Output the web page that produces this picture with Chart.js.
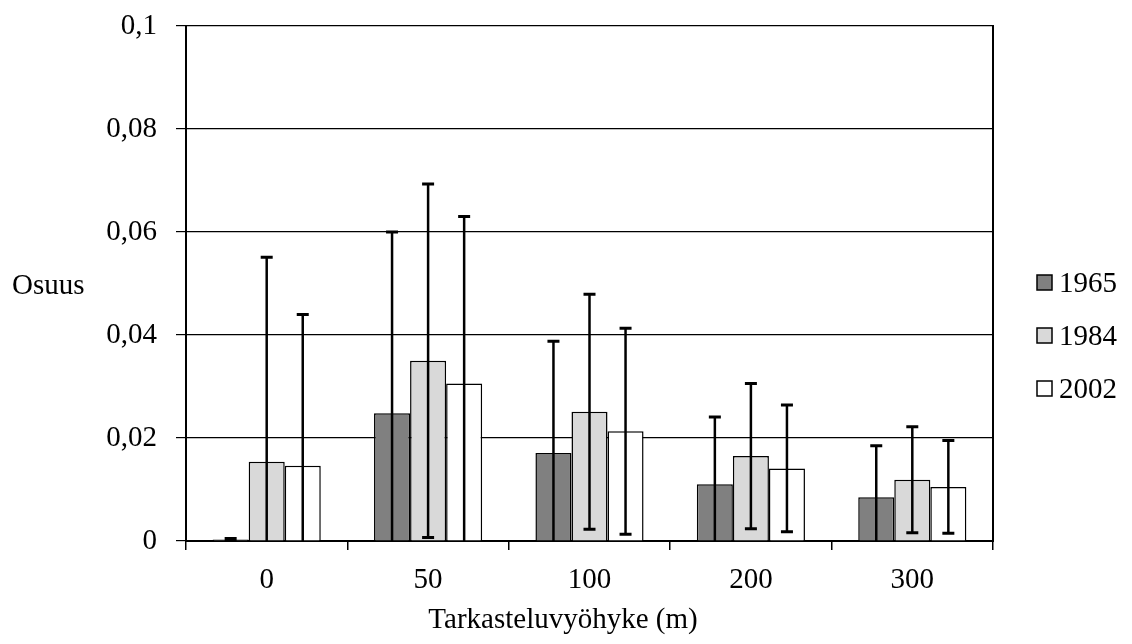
<!DOCTYPE html>
<html>
<head>
<meta charset="utf-8">
<script src="https://cdn.jsdelivr.net/npm/chart.js@4.4.1/dist/chart.umd.min.js"></script>
<style>
  html, body { margin: 0; padding: 0; background: #fff; }
  #wrap { width: 1132px; height: 644px; }
</style>
</head>
<body>
<div id="wrap"><canvas id="chart"></canvas></div>
<script>
// Zones and yearly shares (mean ± deviation)
const zones = ['0', '50', '100', '200', '300'];
const years = ['1965', '1984', '2002'];
const share1965 = [0.0003, 0.0248, 0.0171, 0.0110, 0.0085];
const share1984 = [0.0154, 0.0350, 0.0251, 0.0165, 0.0119];
const share2002 = [0.0146, 0.0306, 0.0213, 0.0141, 0.0105];
const err1965 = [0.0002, 0.0352, 0.0217, 0.0131, 0.0100];
const err1984 = [0.0397, 0.0343, 0.0228, 0.0141, 0.0103];
const err2002 = [0.0294, 0.0324, 0.0200, 0.0123, 0.0090];
const yTickLabels = ['0', '0,02', '0,04', '0,06', '0,08', '0,1'];
const fills = ['#808080', '#d9d9d9', '#ffffff'];

const FONT = 'Liberation Serif';
const fontSize = 29;

const errors = [err1965, err1984, err2002];

// error bars with caps, clipped to the plot area
const errorBars = {
  id: 'errorBars',
  afterDatasetsDraw(chart) {
    const ctx = chart.ctx;
    const area = chart.chartArea;
    const y = chart.scales.y;
    ctx.save();
    ctx.beginPath();
    ctx.rect(area.left, area.top, area.right - area.left, area.bottom - area.top);
    ctx.clip();
    ctx.strokeStyle = '#000';
    chart.data.datasets.forEach((ds, i) => {
      const meta = chart.getDatasetMeta(i);
      meta.data.forEach((bar, j) => {
        const v = ds.data[j];
        const e = errors[i][j];
        const top = y.getPixelForValue(v + e);
        const bot = y.getPixelForValue(v - e);
        ctx.lineWidth = 2.5;
        ctx.beginPath();
        ctx.moveTo(bar.x, top);
        ctx.lineTo(bar.x, bot);
        ctx.stroke();
        ctx.lineWidth = 3;
        ctx.beginPath();
        ctx.moveTo(bar.x - 6, top);
        ctx.lineTo(bar.x + 6, top);
        ctx.moveTo(bar.x - 6, bot);
        ctx.lineTo(bar.x + 6, bot);
        ctx.stroke();
      });
    });
    ctx.restore();
  }
};

// axis titles and the legend on the right
const labels = {
  id: 'labels',
  afterDraw(chart) {
    const ctx = chart.ctx;
    ctx.save();
    ctx.fillStyle = '#000';
    ctx.font = fontSize + 'px "' + FONT + '"';
    ctx.textBaseline = 'alphabetic';
    ctx.textAlign = 'left';
    ctx.fillText('Osuus', 12, 294);
    ctx.textAlign = 'center';
    ctx.fillText('Tarkasteluvyöhyke (m)', 563, 628);

    ctx.textAlign = 'left';
    ctx.textBaseline = 'middle';
    chart.data.datasets.forEach((ds, i) => {
      const cy = 283 + i * 53;
      ctx.fillStyle = ds.backgroundColor;
      ctx.fillRect(1037, cy - 8, 15, 15);
      ctx.strokeStyle = '#000';
      ctx.lineWidth = 1.5;
      ctx.strokeRect(1037, cy - 8, 15, 15);
      ctx.fillStyle = '#000';
      ctx.fillText(ds.label, 1059, cy + 1);
    });
    ctx.restore();
  }
};

new Chart(document.getElementById('chart'), {
  type: 'bar',
  data: {
    labels: zones,
    datasets: [share1965, share1984, share2002].map((d, i) => ({
      label: years[i],
      data: d,
      backgroundColor: fills[i],
      borderColor: '#000',
      borderWidth: 1.5,
      categoryPercentage: 0.67,
      barPercentage: 1.0
    }))
  },
  options: {
    responsive: true,
    maintainAspectRatio: false,
    animation: false,
    layout: { padding: { left: 0, right: 139, top: 26, bottom: 0 } },
    plugins: {
      legend: { display: false },
      tooltip: { enabled: false }
    },
    scales: {
      x: {
        afterFit(scale) {
          scale.height = 103;
          scale.paddingLeft = 0;
          scale.paddingRight = 0;
        },
        grid: { offset: true, drawOnChartArea: false, tickLength: 9, color: '#000', lineWidth: 1.5 },
        border: { color: '#000', width: 2 },
        ticks: { color: '#000', padding: 13, font: { family: FONT, size: fontSize } }
      },
      y: {
        min: 0,
        max: 0.1,
        afterFit(scale) {
          scale.width = 186;
          scale.paddingTop = 0;
          scale.paddingBottom = 0;
        },
        grid: { color: '#000', lineWidth: 1.2, tickLength: 10 },
        border: { color: '#000', width: 2 },
        ticks: {
          stepSize: 0.02,
          color: '#000',
          padding: 19,
          font: { family: FONT, size: fontSize },
          callback: (v, i) => yTickLabels[i]
        }
      },
      y2: {
        position: 'right',
        min: 0,
        max: 0.1,
        afterFit(scale) { scale.width = 0; },
        grid: { drawOnChartArea: false, drawTicks: false },
        border: { color: '#000', width: 2 },
        ticks: { display: false }
      }
    }
  },
  plugins: [errorBars, labels]
});
</script>
</body>
</html>
